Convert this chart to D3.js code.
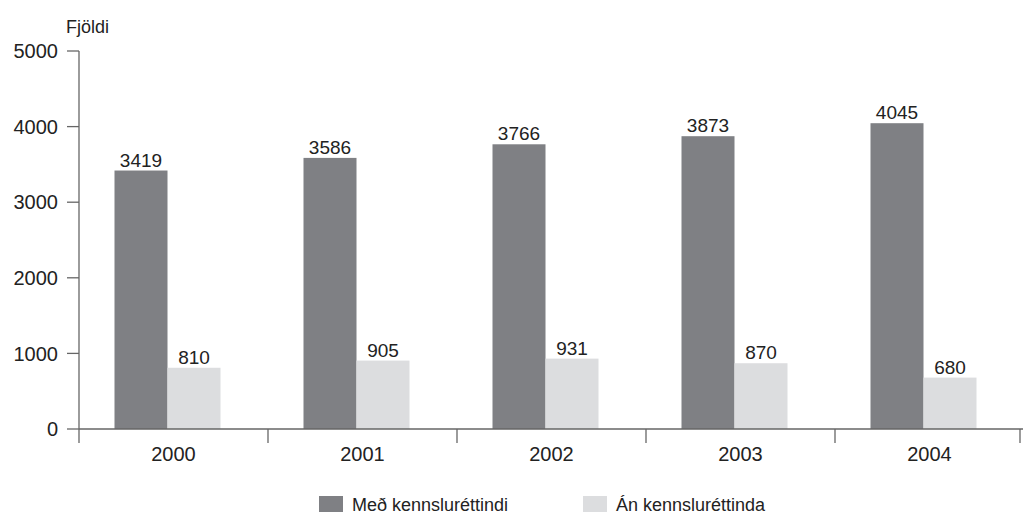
<!DOCTYPE html>
<html><head><meta charset="utf-8">
<script src="https://cdn.jsdelivr.net/npm/d3@7"></script>
<style>body{margin:0;background:#fff}svg{display:block;font-family:"Liberation Sans",Arial,sans-serif}</style>
</head><body>
<svg id="c" width="1023" height="516"></svg>
<script>
const years = ["2000","2001","2002","2003","2004"];
const series = ["Með kennsluréttindi","Án kennsluréttinda"];
const withCert = [3419,3586,3766,3873,4045];
const withoutCert = [810,905,931,870,680];
const yTicks = [0,1000,2000,3000,4000,5000];
const colors = ["#7f8084","#dcdddf"];

const svg = d3.select("#c");
const x0 = 79, x1 = 1024, yTop = 51, yBot = 429;
const x = d3.scaleBand().domain(years).range([x0,x1]);
const y = d3.scaleLinear().domain([0,5000]).range([yBot,yTop]);
const bw = 53, off = -6;
const data = [withCert, withoutCert];

// y axis
const ya = svg.append("g");
ya.append("line").attr("x1",x0).attr("x2",x0).attr("y1",y(5000)).attr("y2",yBot).attr("stroke","#666").attr("stroke-width",1.3);
yTicks.forEach(t=>{
  ya.append("line").attr("x1",67).attr("x2",x0).attr("y1",y(t)).attr("y2",y(t)).attr("stroke","#666").attr("stroke-width",1.3);
  ya.append("text").attr("x",58).attr("y",y(t)).attr("dy","0.36em").attr("text-anchor","end").attr("font-size",20).attr("fill","#222").text(t);
});
svg.append("text").attr("x",66).attr("y",33).attr("font-size",18).attr("fill","#222").text("Fjöldi");

// bars
data.forEach((vals,si)=>{
  svg.append("g").selectAll("rect").data(vals).join("rect")
    .attr("x",(d,i)=>x(years[i])+x.bandwidth()/2+off+(si-1)*bw)
    .attr("y",d=>y(d)).attr("width",bw).attr("height",d=>yBot-y(d)).attr("fill",colors[si]);
  svg.append("g").selectAll("text").data(vals).join("text")
    .attr("x",(d,i)=>x(years[i])+x.bandwidth()/2+off+(si-1)*bw+bw/2)
    .attr("y",d=>y(d)-4).attr("text-anchor","middle").attr("font-size",19).attr("fill","#222").text(d=>d);
});

// x axis
svg.append("line").attr("x1",x0).attr("x2",1023).attr("y1",yBot).attr("y2",yBot).attr("stroke","#666").attr("stroke-width",1.3);
years.forEach(yr=>{
  svg.append("line").attr("x1",x(yr)).attr("x2",x(yr)).attr("y1",yBot).attr("y2",443).attr("stroke","#666").attr("stroke-width",1.3);
  svg.append("text").attr("x",x(yr)+x.bandwidth()/2).attr("y",461).attr("text-anchor","middle").attr("font-size",20).attr("fill","#222").text(yr);
});
svg.append("line").attr("x1",1020).attr("x2",1020).attr("y1",yBot).attr("y2",443).attr("stroke","#666").attr("stroke-width",1.3);

// legend
const lx = [319,583];
series.forEach((s,i)=>{
  svg.append("rect").attr("x",lx[i]).attr("y",496).attr("width",24).attr("height",16).attr("fill",colors[i]);
  svg.append("text").attr("x",lx[i]+33).attr("y",511).attr("font-size",18).attr("fill","#222").text(s);
});
</script>
</body></html>
